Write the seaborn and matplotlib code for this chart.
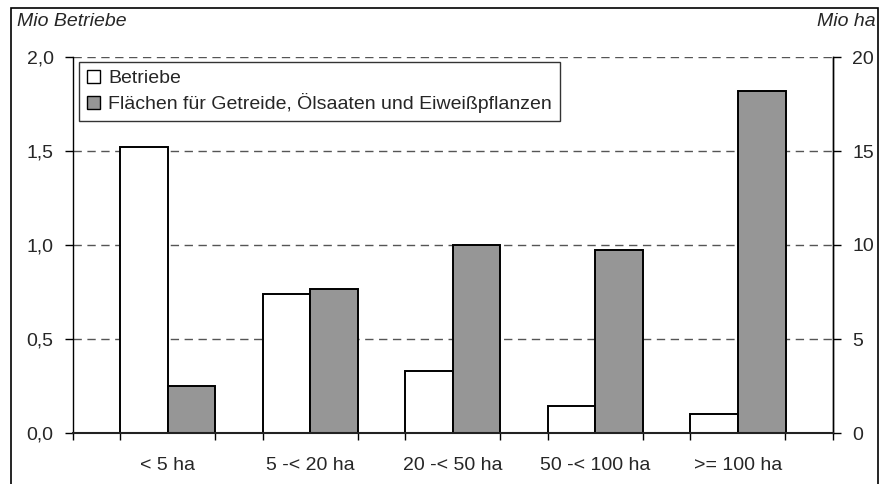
import numpy as np
import pandas as pd
import matplotlib
matplotlib.use("Agg")
import matplotlib.pyplot as plt
from matplotlib.patches import Rectangle
from matplotlib.ticker import FuncFormatter, FixedLocator
import seaborn as sns

categories = ["< 5 ha", "5 -< 20 ha", "20 -< 50 ha", "50 -< 100 ha", ">= 100 ha"]
betriebe = [1.52, 0.74, 0.33, 0.145, 0.10]          # Mio Betriebe (left axis)
flaechen = [2.5, 7.65, 10.0, 9.75, 18.2]              # Mio ha (right axis)
series_names = ["Betriebe", "Flächen für Getreide, Ölsaaten und Eiweißpflanzen"]
left_ticks = [0.0, 0.5, 1.0, 1.5, 2.0]
right_ticks = [0, 5, 10, 15, 20]

# right axis is 10x left axis
scale = 10.0
df = pd.DataFrame({
    "cat": categories * 2,
    "series": [series_names[0]] * 5 + [series_names[1]] * 5,
    "val": list(betriebe) + [v / scale for v in flaechen],
})

sns.set_style("white")
plt.rcParams["font.family"] = ["Liberation Sans", "DejaVu Sans"]
FS = 14

fig = plt.figure(figsize=(8.87, 4.84), dpi=100)
ax = fig.add_axes([73 / 887, 1 - 433 / 484, (833 - 73) / 887, (433 - 57) / 484])

sns.barplot(data=df, x="cat", y="val", hue="series", hue_order=series_names,
            order=categories, palette=["white", "#969696"], width=2 / 3,
            edgecolor="black", linewidth=1.4, ax=ax, saturation=1)

ax.set_xlim(-2 / 3, 4 + 2 / 3)
ax.set_ylim(0, 2.0)
ax.set_xlabel("")
ax.set_ylabel("")

ax.set_axisbelow(True)
ax.yaxis.set_major_locator(FixedLocator(left_ticks))
ax.yaxis.grid(True, linestyle=(0, (6, 4)), color="#555555", linewidth=1.0)
ax.xaxis.grid(False)
ax.yaxis.set_major_formatter(FuncFormatter(lambda v, p: f"{v:.1f}".replace(".", ",")))

ax.set_xticks(range(5))
ax.set_xticklabels(categories, fontsize=FS)
ax.set_xticks(np.arange(-2 / 3, 4.7, 1 / 3), minor=True)
ax.tick_params(axis="x", which="major", length=0, pad=17)
ax.tick_params(axis="x", which="minor", length=5, width=1, color="black", direction="out", bottom=True)
ax.tick_params(axis="y", which="major", length=6, width=1, color="black", direction="out",
               left=True, labelsize=FS, pad=8)

ax.spines["top"].set_visible(False)
ax.spines["left"].set_color("black")
ax.spines["left"].set_linewidth(1.0)
ax.spines["right"].set_color("black")
ax.spines["right"].set_linewidth(1.0)
ax.spines["bottom"].set_color("#222222")
ax.spines["bottom"].set_linewidth(1.5)

sec = ax.secondary_yaxis("right", functions=(lambda y: y * scale, lambda y: y / scale))
sec.yaxis.set_major_locator(FixedLocator(right_ticks))
sec.yaxis.set_major_formatter(FuncFormatter(lambda v, p: f"{v:.0f}"))
sec.tick_params(axis="y", length=6, width=1, direction="out", labelsize=FS, pad=8, color="black")
sec.spines["right"].set_color("black")
sec.spines["right"].set_linewidth(1.0)

handles, labels = ax.get_legend_handles_labels()
leg = ax.legend(handles, labels, loc="upper left", bbox_to_anchor=(6 / 760, 1 - 5 / 376),
                fontsize=FS, frameon=True, fancybox=False, edgecolor="black",
                handlelength=0.7, handleheight=0.7, handletextpad=0.4,
                labelspacing=0.3, borderpad=0.4, borderaxespad=0)
leg.get_frame().set_linewidth(1.0)
for h in leg.legend_handles:
    h.set_linewidth(1.0)

fig.text(17 / 887, 1 - 22 / 484, "Mio Betriebe", fontsize=FS, style="italic",
         ha="left", va="center")
fig.text(876 / 887, 1 - 22 / 484, "Mio ha", fontsize=FS, style="italic",
         ha="right", va="center")

fig.add_artist(Rectangle((11 / 887, -0.1), (878 - 11) / 887, (1 - 8 / 484) + 0.1,
                         transform=fig.transFigure, fill=False, edgecolor="black",
                         linewidth=1.2))

fig.savefig("out.png", dpi=100)
